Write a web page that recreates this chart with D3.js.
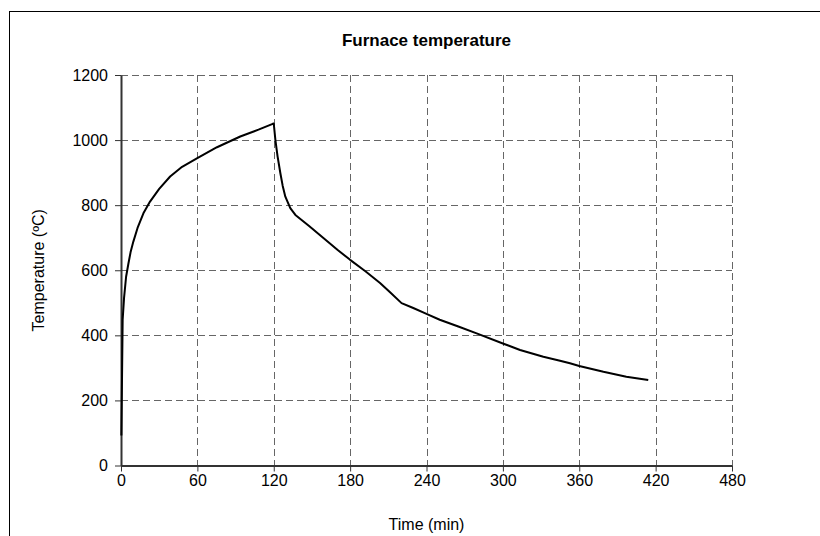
<!DOCTYPE html>
<html>
<head>
<meta charset="utf-8">
<script src="https://cdn.jsdelivr.net/npm/d3@7"></script>
<style>
    body { margin: 0; background: #fff; }
    text { font-family: "Liberation Sans", Arial, sans-serif; }
</style>
</head>
<body>
<script>
// readings (minutes, degC)
const times = [0.3, 1.3, 2.4, 4, 5.8, 7.5, 9.7, 13, 17.6, 22.8, 30, 38.6, 48, 59.6, 75.4, 93.7, 108, 119.2,
    120, 121.3, 123, 125.2, 127, 129.1, 133, 137, 148, 159, 170, 180, 192, 203.5, 212, 220.4, 229.6,
    240, 250.4, 265, 279.4, 300, 313.5, 331.8, 344.9, 352.7, 360, 379, 397, 414.2];
const temps = [92, 448, 515, 580, 620, 655, 688, 730, 775, 811, 850, 888, 918, 944, 978, 1011, 1032, 1050,
    1051, 1000, 950, 898, 860, 826, 791, 770, 735, 699, 663, 632, 597, 561, 530, 499, 484,
    466, 448, 427, 406, 375, 355, 334, 322, 314, 306, 288, 273, 263];
const xTicks = [0, 60, 120, 180, 240, 300, 360, 420, 480];
const yTicks = [0, 200, 400, 600, 800, 1000, 1200];

const w = 820;
const h = 536;
const plot = { left: 121, right: 732, top: 75, bottom: 465.5 };

const data = times.map((t, i) => ({ t, v: temps[i] }));

const svg = d3
    .select("body")
    .append("svg")
    .attr("width", w)
    .attr("height", h);

// outer chart frame, runs off the right and bottom edges
svg
    .append("rect")
    .attr("x", 9.5)
    .attr("y", 11.5)
    .attr("width", w)
    .attr("height", h)
    .attr("fill", "none")
    .attr("stroke", "#000")
    .attr("stroke-width", 1);

const x = d3.scaleLinear().domain([0, 480]).range([plot.left, plot.right]);
const y = d3.scaleLinear().domain([0, 1200]).range([plot.bottom, plot.top]);

// dashed grid
svg
    .append("g")
    .selectAll("line")
    .data(xTicks.slice(1))
    .enter()
    .append("line")
    .attr("x1", d => Math.round(x(d)) + 0.5)
    .attr("x2", d => Math.round(x(d)) + 0.5)
    .attr("y1", plot.top)
    .attr("y2", plot.bottom)
    .attr("stroke", "#666")
    .attr("stroke-dasharray", "7,4");

svg
    .append("g")
    .selectAll("line")
    .data(yTicks.slice(1))
    .enter()
    .append("line")
    .attr("x1", plot.left)
    .attr("x2", plot.right)
    .attr("y1", d => Math.round(y(d)) + 0.5)
    .attr("y2", d => Math.round(y(d)) + 0.5)
    .attr("stroke", "#666")
    .attr("stroke-dasharray", "7,4");

const xAxis = svg
    .append("g")
    .attr("transform", `translate(0,${plot.bottom})`)
    .call(d3.axisBottom(x).tickValues(xTicks).tickFormat(d3.format("d")).tickSize(6).tickPadding(3).tickSizeOuter(0));

const yAxis = svg
    .append("g")
    .attr("transform", `translate(${plot.left},0)`)
    .call(d3.axisLeft(y).tickValues(yTicks).tickFormat(d3.format("d")).tickSize(6).tickPadding(7).tickSizeOuter(0));

[xAxis, yAxis].forEach(a => {
    a.select(".domain").attr("stroke", "#333").attr("stroke-width", 2);
    a.selectAll(".tick line").attr("stroke", "#333");
    a.selectAll(".tick text")
        .attr("fill", "#000")
        .attr("font-family", "'Liberation Sans', Arial, sans-serif")
        .attr("font-size", 16);
});

// the furnace curve
svg
    .append("path")
    .datum(data)
    .attr("fill", "none")
    .attr("stroke", "#000")
    .attr("stroke-width", 2)
    .attr("stroke-linejoin", "round")
    .attr("d", d3.line().x(d => x(d.t)).y(d => y(d.v)));

svg
    .append("text")
    .attr("x", (plot.left + plot.right) / 2)
    .attr("y", 46)
    .attr("text-anchor", "middle")
    .attr("font-size", 17)
    .attr("font-weight", "bold")
    .text("Furnace temperature");

svg
    .append("text")
    .attr("x", (plot.left + plot.right) / 2)
    .attr("y", 530)
    .attr("text-anchor", "middle")
    .attr("font-size", 16)
    .text("Time (min)");

svg
    .append("text")
    .attr("transform", `translate(44,${(plot.top + plot.bottom) / 2}) rotate(-90)`)
    .attr("text-anchor", "middle")
    .attr("font-size", 16)
    .text("Temperature (ºC)");
</script>
</body>
</html>
